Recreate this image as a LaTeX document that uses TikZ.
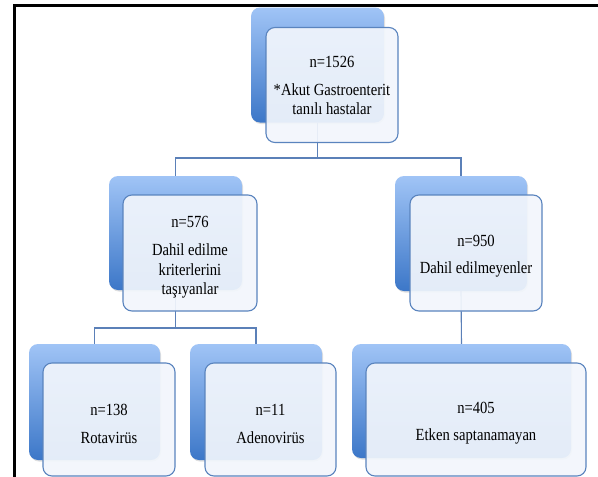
\documentclass[tikz,border=0pt]{standalone}
\usepackage{fontspec}
\setmainfont{Liberation Serif}[FakeStretch=0.86]
\usetikzlibrary{shadows}
\definecolor{gtop}{HTML}{A0C4F6}
\definecolor{gbot}{HTML}{3C77C8}
\definecolor{ffill}{HTML}{F2F6FC}
\definecolor{fline}{HTML}{5A84BE}
\definecolor{cline}{HTML}{5B80B8}
\tikzset{
  backbox/.style={rectangle, rounded corners=9pt, inner sep=0pt, top color=gtop, bottom color=gbot,
    drop shadow={opacity=0.25, shadow xshift=1pt, shadow yshift=-1.5pt}},
  frontbox/.style={rectangle, rounded corners=9pt, inner sep=0pt, draw=fline, line width=1.1pt,
    fill=ffill, fill opacity=0.92},
  label/.style={inner sep=0pt, align=center, font=\fontsize{17}{19.5}\selectfont},
  conn/.style={draw=cline, line width=1.1pt},
}
\begin{document}
\begin{tikzpicture}[x=1pt,y=-1pt]
\useasboundingbox (0,0) rectangle (598,477);
\fill[white] (0,0) rectangle (598,477);
% frame
\draw[line width=2.8pt, black] (14.3,478) -- (14.3,5.2) -- (598,5.2);
% back boxes
\node[backbox, minimum width=133pt, minimum height=115pt] (b1) at (317.5,65) {};
\node[backbox, minimum width=133pt, minimum height=114pt] (b2) at (175.5,233) {};
\node[backbox, minimum width=132pt, minimum height=115pt] (b3) at (461,233.5) {};
\node[backbox, minimum width=131pt, minimum height=116pt] (b4) at (94.5,402) {};
\node[backbox, minimum width=132pt, minimum height=116pt] (b5) at (256,402) {};
\node[backbox, minimum width=219pt, minimum height=114pt] (b6) at (461.5,401) {};
% connectors
\draw[conn] (b1.south) -- (b1.south |- 0,158) -| (b2.north);
\draw[conn] (b1.south |- 0,158) -| (b3.north);
\draw[conn] (b2.south) -- (b2.south |- 0,328) -| (b4.north);
\draw[conn] (b2.south |- 0,328) -| (b5.north);
\draw[conn] (b3.south) -- (b6.north);
% front boxes
\node[frontbox, minimum width=132pt, minimum height=115pt] (f1) at (332,85) {};
\node[frontbox, minimum width=134pt, minimum height=116pt] (f2) at (190,253) {};
\node[frontbox, minimum width=132pt, minimum height=116pt] (f3) at (476,253) {};
\node[frontbox, minimum width=132pt, minimum height=113pt] (f4) at (109,419.5) {};
\node[frontbox, minimum width=131pt, minimum height=113pt] (f5) at (270.5,419.5) {};
\node[frontbox, minimum width=220pt, minimum height=113pt] (f6) at (476,419.5) {};
% texts
\node[label] (t1) at (332,85.5) {n=1526\\[8.5pt]*Akut Gastroenterit\\tanılı hastalar};
\node[label] (t2) at (190,257) {n=576\\[9pt]Dahil edilme\\kriterlerini\\taşıyanlar};
\node[label] (t3) at (476,256) {n=950\\[8pt]Dahil edilmeyenler};
\node[label] (t4) at (109,424) {n=138\\[8pt]Rotavirüs};
\node[label] (t5) at (270.5,424) {n=11\\[8pt]Adenovirüs};
\node[label] (t6) at (476,423) {n=405\\[8pt]Etken saptanamayan};
\end{tikzpicture}
\end{document}
